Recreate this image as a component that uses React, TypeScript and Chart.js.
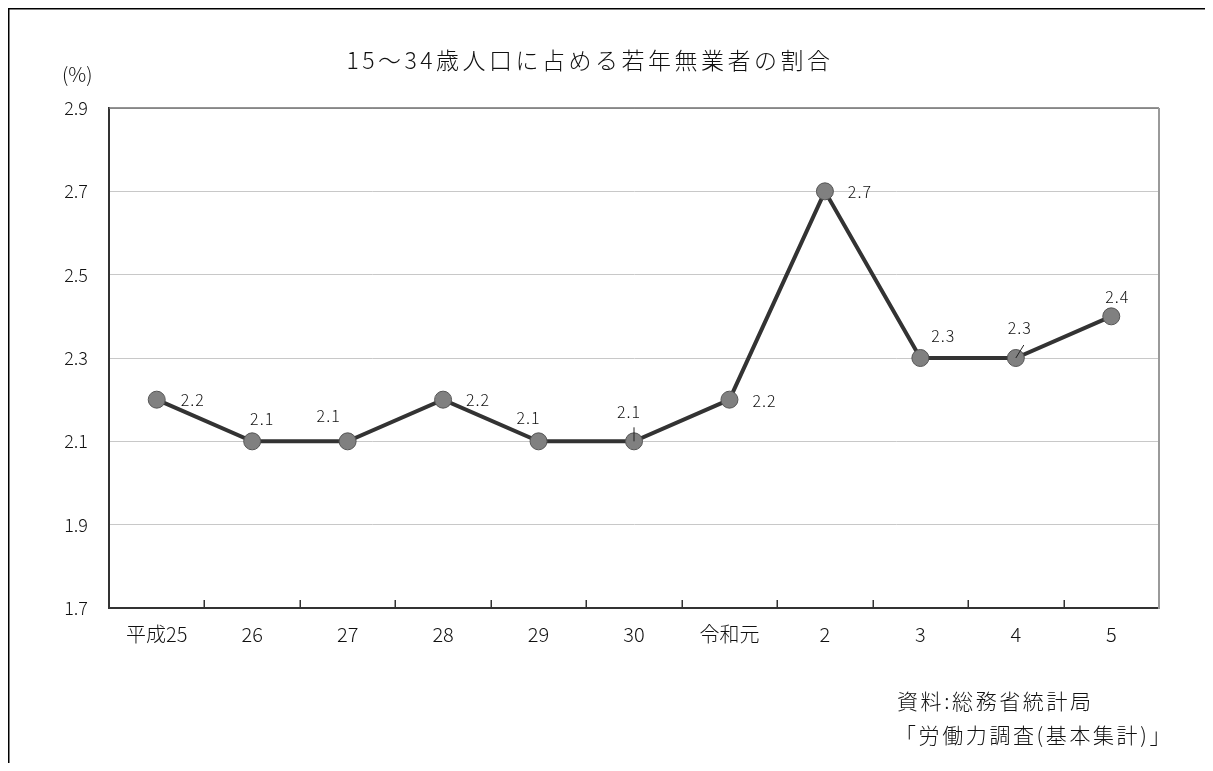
import { useEffect, useRef } from "react";
import { Chart, registerables } from "chart.js";

Chart.register(...registerables);

// Fiscal-year labels (Heisei 25 … Reiwa 5)
const categories = ["平成25", "26", "27", "28", "29", "30", "令和元", "2", "3", "4", "5"];
// Share of young NEETs in the 15–34 population (%)
const shares = [2.2, 2.1, 2.1, 2.2, 2.1, 2.1, 2.2, 2.7, 2.3, 2.3, 2.4];
// Value-axis ticks
const yTicks = [1.7, 1.9, 2.1, 2.3, 2.5, 2.7, 2.9];

const titleText = "15〜34歳人口に占める若年無業者の割合";
const unitText = "(%)";
const sourceLines = ["資料:総務省統計局", "「労働力調査(基本集計)」"];

// Where each value label sits relative to its point (dx, dy in px)
const labelOffsets: [number, number][] = [
  [36, 0], [10, -22], [-19, -25], [35, 0], [-10, -23], [-5, -29],
  [35, 1], [35, 1], [23, -22], [4, -30], [6, -19],
];
// Short leader lines from a label to its point: [x1, y1, x2, y2] relative to the point
const leaderLines: Record<number, [number, number, number, number]> = {
  5: [0, -14, 0, 0],
  9: [8, -13, 0, 0],
};

const FONT = '"Noto Sans CJK JP", "Noto Sans", sans-serif';
const TEXT = "#111";

const W = 1197;
const H = 755;

const decorPlugin = {
  id: "decor",
  afterDraw(chart: Chart) {
    const ctx = chart.ctx;
    const area = chart.chartArea;
    const xs: any = chart.scales.x;
    ctx.save();

    // outer frame (left and top edges)
    ctx.strokeStyle = "#000";
    ctx.lineWidth = 1.5;
    ctx.beginPath();
    ctx.moveTo(0.75, H);
    ctx.lineTo(0.75, 0.75);
    ctx.lineTo(W, 0.75);
    ctx.stroke();

    // plot frame: top and right
    ctx.strokeStyle = "#707070";
    ctx.lineWidth = 1.5;
    ctx.beginPath();
    ctx.moveTo(area.left, area.top);
    ctx.lineTo(area.right, area.top);
    ctx.stroke();
    ctx.strokeStyle = "#9a9a9a";
    ctx.lineWidth = 2;
    ctx.beginPath();
    ctx.moveTo(area.right, area.top);
    ctx.lineTo(area.right, area.bottom + 1);
    ctx.stroke();

    // inner tick marks at category boundaries
    ctx.strokeStyle = "#333";
    ctx.lineWidth = 1.5;
    for (let i = 1; i < categories.length; i++) {
      const x = Math.round((xs.getPixelForTick(i - 1) + xs.getPixelForTick(i)) / 2) + 0.25;
      ctx.beginPath();
      ctx.moveTo(x, area.bottom - 8);
      ctx.lineTo(x, area.bottom);
      ctx.stroke();
    }

    // value labels
    const meta = chart.getDatasetMeta(0);
    ctx.fillStyle = TEXT;
    ctx.font = `300 16px ${FONT}`;
    ctx.textAlign = "center";
    ctx.textBaseline = "middle";
    (ctx as any).letterSpacing = "1px";
    meta.data.forEach((pt: any, i: number) => {
      const [dx, dy] = labelOffsets[i];
      ctx.fillText(shares[i].toFixed(1), pt.x + dx, pt.y + dy);
      const ll = leaderLines[i];
      if (ll) {
        ctx.strokeStyle = "#222";
        ctx.lineWidth = 1;
        ctx.beginPath();
        ctx.moveTo(pt.x + ll[0], pt.y + ll[1]);
        ctx.lineTo(pt.x + ll[2], pt.y + ll[3]);
        ctx.stroke();
      }
    });

    // title
    ctx.font = `300 23px ${FONT}`;
    (ctx as any).letterSpacing = "3.5px";
    ctx.textAlign = "center";
    ctx.fillText(titleText, 582, 52);

    // unit
    (ctx as any).letterSpacing = "0px";
    ctx.font = `300 20px ${FONT}`;
    ctx.textAlign = "left";
    ctx.fillText(unitText, 54, 66);

    // source note
    ctx.font = `300 21px ${FONT}`;
    (ctx as any).letterSpacing = "2.6px";
    ctx.fillText(sourceLines[0], 889, 693);
    ctx.fillText(sourceLines[1], 887, 727);

    ctx.restore();
  },
};

export default function App() {
  const ref = useRef<HTMLCanvasElement | null>(null);

  useEffect(() => {
    if (!ref.current) return;
    const chart = new Chart(ref.current, {
      type: "line",
      data: {
        labels: categories,
        datasets: [
          {
            data: shares,
            borderColor: "#333",
            borderWidth: 4,
            tension: 0,
            pointRadius: 8.5,
            pointHoverRadius: 8.5,
            pointBackgroundColor: "#808080",
            pointBorderColor: "#555",
            pointBorderWidth: 1,
            clip: false as any,
          },
        ],
      },
      options: {
        animation: false,
        responsive: false,
        devicePixelRatio: 1,
        events: [],
        layout: { padding: { left: 0, right: 46, top: 100, bottom: 105 } },
        plugins: {
          legend: { display: false },
          title: { display: false },
          tooltip: { enabled: false },
        },
        scales: {
          x: {
            type: "category",
            offset: true,
            grid: { display: false, drawTicks: false },
            border: { display: true, color: "#333", width: 2 },
            ticks: {
              color: TEXT,
              font: { family: FONT, size: 20, weight: "300" as any },
              padding: 14,
              maxRotation: 0,
              autoSkip: false,
            },
            afterFit(scale: any) {
              scale.height = 50;
            },
          },
          y: {
            min: yTicks[0],
            max: yTicks[yTicks.length - 1],
            ticks: {
              stepSize: yTicks[1] - yTicks[0],
              color: TEXT,
              font: { family: FONT, size: 18, weight: "300" as any },
              padding: 21,
              callback: (v: any) => Number(v).toFixed(1),
            },
            grid: { color: "#c8c8c8", lineWidth: 1, drawTicks: false },
            border: { display: true, color: "#333", width: 2 },
            afterFit(scale: any) {
              scale.width = 101;
            },
          },
        },
      },
      plugins: [decorPlugin],
    });
    return () => chart.destroy();
  }, []);

  return <canvas ref={ref} width={W} height={H} style={{ display: "block", width: W, height: H }} />;
}
